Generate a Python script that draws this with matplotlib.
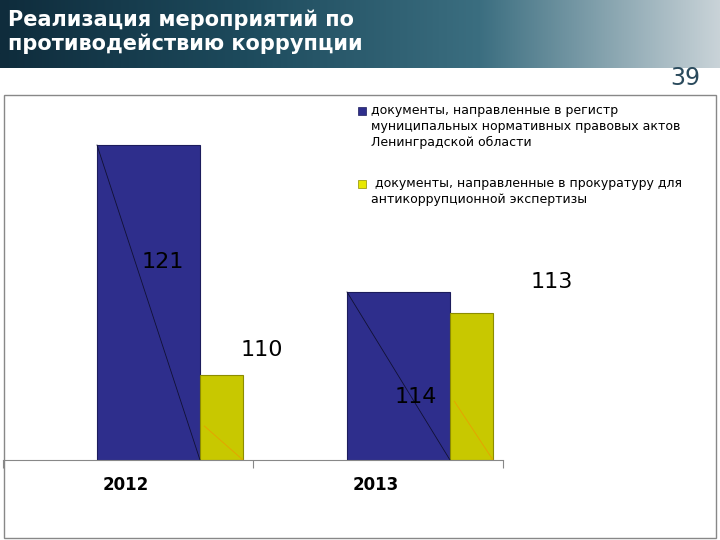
import matplotlib.pyplot as plt
from matplotlib.patches import Rectangle
import numpy as np

years = ["2012", "2013"]
blue_h = [315, 168]      # bar heights as drawn in the picture
yellow_h = [85, 147]
blue_lbl = ["121", "113"]
yellow_lbl = ["110", "114"]

W, H = 720, 540
fig = plt.figure(figsize=(7.2, 5.4), dpi=100)

def fx(x): return x / W
def fy(y): return 1 - y / H

# header banner
hdr = fig.add_axes([0, fy(68), 1, 68 / H])
grad = np.linspace(0, 1, 256).reshape(1, -1)
hdr.imshow(grad, aspect="auto", cmap=plt.matplotlib.colors.LinearSegmentedColormap.from_list(
    "h", ["#0f2c3c", "#1d4a5c", "#3b6e80", "#c9d3d8"]), extent=[0, 1, 0, 1])
hdr.axis("off")
fig.text(fx(8), fy(20), "Реализация мероприятий по", color="white", fontsize=15, fontweight="bold", va="center")
fig.text(fx(8), fy(44), "противодействию коррупции", color="white", fontsize=15, fontweight="bold", va="center")
fig.text(fx(700), fy(78), "39", color="#2a4a5c", fontsize=17, ha="right", va="center")
fig.add_artist(Rectangle((fx(4), fy(538)), fx(712), fy(95) - fy(538), transform=fig.transFigure,
                         fill=False, edgecolor="#888888", lw=1))

ax = fig.add_axes([fx(3), fy(460), fx(500), (460 - 95) / H])
x = np.arange(len(years))
bb = ax.bar(x - 0.124, blue_h, 0.412, align="edge", color="#2e2e8c", edgecolor="#1c1c5c", lw=0.8)
yb = ax.bar(x + 0.288, yellow_h, 0.172, align="edge", color="#c8c800", edgecolor="#8c8c00", lw=0.8)
for b in bb:
    ax.plot([b.get_x(), b.get_x() + b.get_width()], [b.get_height(), 0], color="#111133", lw=0.6)
for b in yb:
    ax.plot([b.get_x() + b.get_width() * 0.1, b.get_x() + b.get_width()], [b.get_height() * 0.4, 0],
            color="#e8a000", lw=0.6)
ax.set_xlim(-0.5, 1.5)
ax.set_ylim(0, 365)
for s in ["top", "right", "left"]:
    ax.spines[s].set_visible(False)
ax.spines["bottom"].set_color("#888888")
ax.set_yticks([])
ax.set_xticks([-0.5, 0.5, 1.5])
ax.set_xticklabels([])
ax.tick_params(axis="x", length=6, color="#888888", direction="out")
ax.patch.set_alpha(0)
for i, yr in enumerate(years):
    ax.text(i - 0.01, -25, yr, ha="center", va="center", fontsize=12, fontweight="bold")

# value labels
lbl_pos = [(163, 262), (552, 282)]
for (px, py), t in zip(lbl_pos, blue_lbl):
    fig.text(fx(px), fy(py), t, fontsize=16, ha="center", va="center")
lbl_pos2 = [(262, 350), (416, 397)]
for (px, py), t in zip(lbl_pos2, yellow_lbl):
    fig.text(fx(px), fy(py), t, fontsize=16, ha="center", va="center")

# legend
fig.add_artist(Rectangle((fx(358), fy(115)), fx(8), 8 / H, transform=fig.transFigure,
                         facecolor="#2e2e8c", edgecolor="#1c1c5c", lw=0.5))
fig.text(fx(371), fy(104), "документы, направленные в регистр\nмуниципальных нормативных правовых актов\nЛенинградской области",
         fontsize=9, va="top", linespacing=1.3)
fig.add_artist(Rectangle((fx(358), fy(188)), fx(8), 8 / H, transform=fig.transFigure,
                         facecolor="#e8e800", edgecolor="#8c8c00", lw=0.5))
fig.text(fx(371), fy(177), " документы, направленные в прокуратуру для\nантикоррупционной экспертизы",
         fontsize=9, va="top", linespacing=1.3)

fig.savefig("out.png", dpi=100)
